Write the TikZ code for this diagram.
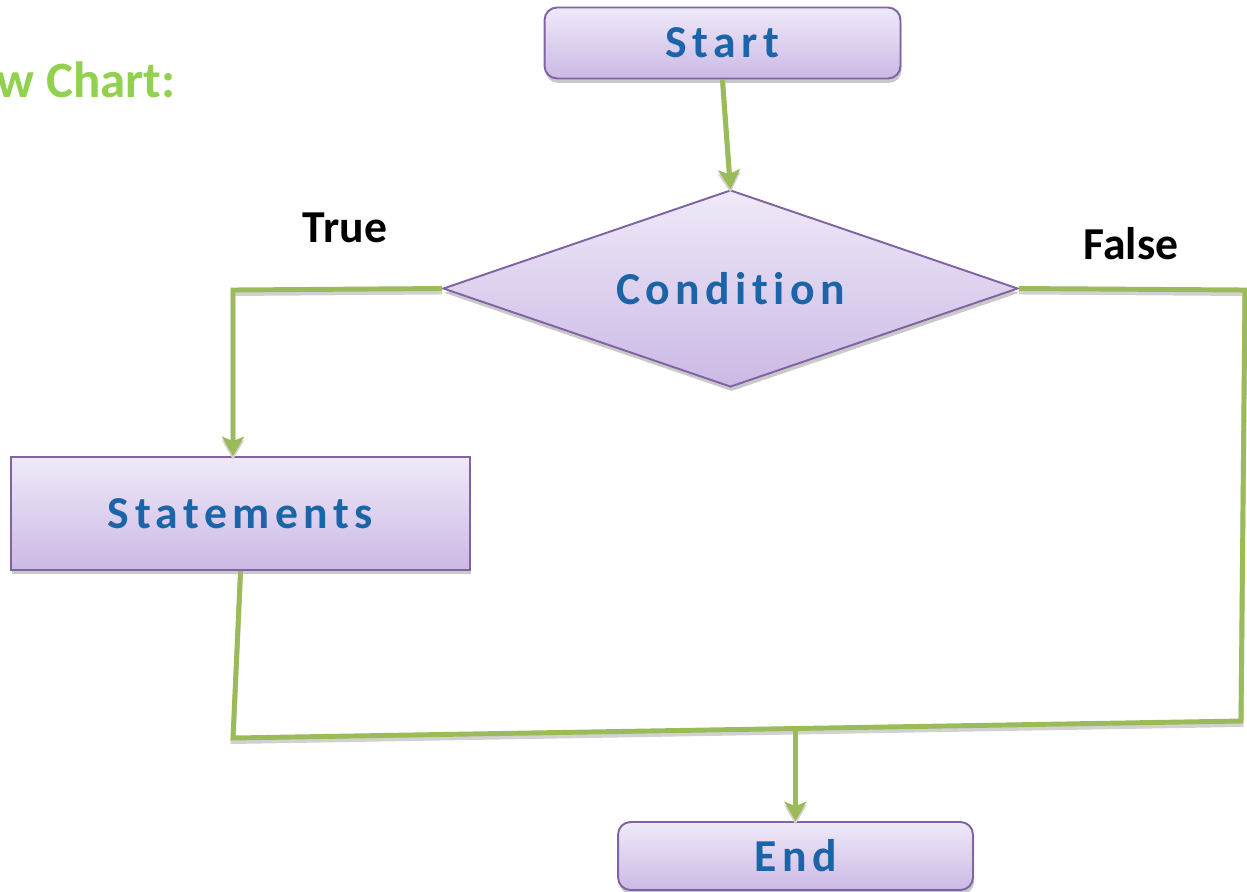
\documentclass[tikz,border=0pt]{standalone}
\usepackage{fontspec}
\setmainfont{Carlito}
\usetikzlibrary{shapes.geometric,arrows.meta,shadows,calc}

\definecolor{flowgreen}{RGB}{155,187,89}
\definecolor{titlegreen}{RGB}{146,208,80}
\definecolor{boxedge}{RGB}{128,100,162}
\definecolor{boxtop}{RGB}{239,233,248}
\definecolor{boxbottom}{RGB}{203,185,229}
\definecolor{labelblue}{RGB}{28,100,168}

\newcommand\boxfont{\fontsize{26pt}{30pt}\selectfont\bfseries\addfontfeature{LetterSpace=12,Ligatures=NoCommon}}

\begin{document}
\begin{tikzpicture}[x=0.02cm,y=-0.02cm,
  flowbox/.style={draw=boxedge, line width=1.1pt, top color=boxtop,
    bottom color=boxbottom, inner sep=0pt, text=labelblue, font=\boxfont,
    drop shadow={shadow xshift=0.6pt, shadow yshift=-2.5pt, opacity=0.3, fill=black!70}},
  terminal/.style={flowbox, rectangle, rounded corners=0.25cm},
  process/.style={flowbox, rectangle},
  decision/.style={flowbox, diamond, aspect=2.9},
  flowline/.style={draw=flowgreen, line width=2.8pt, line join=miter,
    preaction={draw=black!18, line width=2.8pt, transform canvas={yshift=-2pt}}},
  flowarrow/.style={flowline, -{Stealth[length=11pt,width=12.5pt,inset=2.5pt]}},
  branchlabel/.style={font=\fontsize{26pt}{30pt}\selectfont\bfseries, text=black, inner sep=0pt},
]
\useasboundingbox (0,0) rectangle (1247,892);
\clip (0,0) rectangle (1247,892);

% heading
\node[anchor=base east, inner sep=0pt, text=titlegreen,
  font=\fontsize{29pt}{33pt}\selectfont\bfseries] (heading) at (176,97) {w Chart:};

% shapes
\node[terminal, minimum width=7.12cm, minimum height=1.42cm] (start) at (722.5,43) {Start};
\node[decision, minimum width=11.5cm, minimum height=3.94cm] (cond) at (730.5,288.5) {Condition};
\node[process, minimum width=9.18cm, minimum height=2.26cm] (stmt) at (240.5,513.5) {Statements};
\node[terminal, minimum width=7.1cm, minimum height=1.36cm] (finish) at (795.5,856) {End};

% branch labels
\node[branchlabel] (truelbl) at (345,228) {True};
\node[branchlabel] (falselbl) at (1131,244) {False};

% routing points
\coordinate (tl) at (233,290);
\coordinate (bl) at (233,738);
\coordinate (br) at (1241,721);
\coordinate (tr) at (1245,290);
\coordinate (join) at ($(bl)!0.558!(br)$);

% connectors
\draw[flowarrow] (start.south) -- (cond.north);
\draw[flowarrow] (cond.west) -- (tl) -- (tl |- stmt.north);
\draw[flowline] (stmt.south) -- (bl) -- (br) -- (tr) -- (cond.east);
\draw[flowarrow] (join) -- (join |- finish.north);
\end{tikzpicture}
\end{document}
